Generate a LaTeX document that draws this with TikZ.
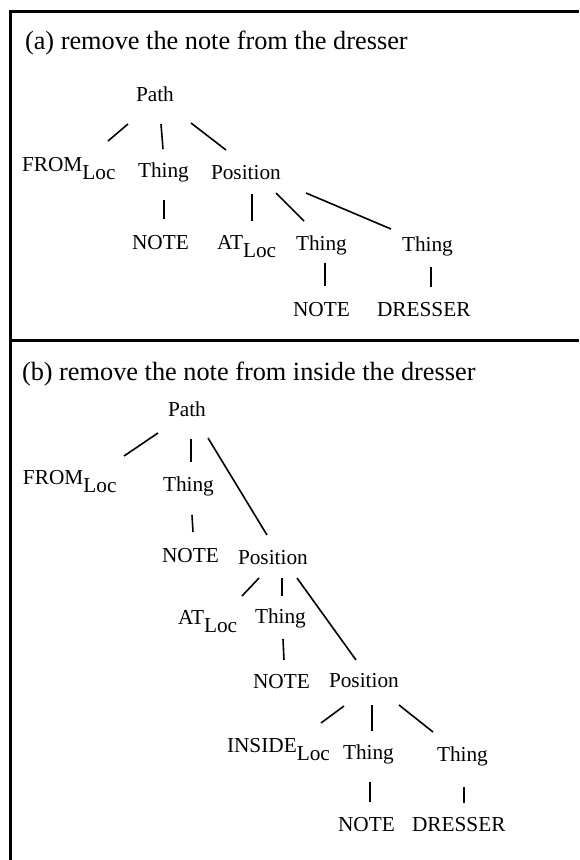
\documentclass[tikz,border=0pt]{standalone}
\usepackage{fontspec}
\setmainfont{Liberation Serif}
\begin{document}
\begin{tikzpicture}[x=1pt,y=-1pt,
  lbl/.style={anchor=base west,inner sep=0pt,outer sep=0pt,font=\fontsize{21.3}{24}\selectfont},
  ttl/.style={anchor=base west,inner sep=0pt,outer sep=0pt,font=\fontsize{26.3}{30}\selectfont},
  edge/.style={line width=1.6pt},
  frame/.style={line width=2.8pt}]
\useasboundingbox (0,0) rectangle (579,860);
\newcommand{\lsub}[1]{#1\raisebox{-8.5pt}{Loc}}
% frame
\coordinate (fa) at (10.5,860);
\coordinate (fb) at (10.5,11.5);
\coordinate (fc) at (579,11.5);
\coordinate (md) at (10.5,340.5);
\coordinate (me) at (579,340.5);
\draw[frame] (fa) -- (fb) -- (fc);
\draw[frame] (md) -- (me);
% ---- (a)
\node[ttl] (ta) at (25,49) {(a) remove the note from the dresser};
\node[lbl] (aP) at (136,101) {Path};
\node[lbl] (aF) at (22,171) {\lsub{FROM}};
\node[lbl] (aT1) at (138,177) {Thing};
\node[lbl] (aPos) at (211,179) {Position};
\node[lbl] (aN1) at (132,249) {NOTE};
\node[lbl] (aAT) at (217,249) {\lsub{AT}};
\node[lbl] (aT2) at (296,250) {Thing};
\node[lbl] (aT3) at (402,251) {Thing};
\node[lbl] (aN2) at (293,316) {NOTE};
\node[lbl] (aD) at (377,316) {DRESSER};
\draw[edge] ([shift={(-8,23)}]aP.base west) -- ([shift={(86,-30)}]aF.base west);
\draw[edge] ([shift={(25,23)}]aP.base west) -- ([shift={(25,-28)}]aT1.base west);
\draw[edge] ([shift={(55,22)}]aP.base west) -- ([shift={(15,-29)}]aPos.base west);
\draw[edge] ([shift={(26,23)}]aT1.base west) -- ([shift={(32,-30)}]aN1.base west);
\draw[edge] ([shift={(41,15)}]aPos.base west) -- ([shift={(35,-28)}]aAT.base west);
\draw[edge] ([shift={(65,14)}]aPos.base west) -- ([shift={(8,-29)}]aT2.base west);
\draw[edge] ([shift={(95,14)}]aPos.base west) -- ([shift={(-11,-22)}]aT3.base west);
\draw[edge] ([shift={(29,13)}]aT2.base west) -- ([shift={(32,-30)}]aN2.base west);
\draw[edge] ([shift={(29,16)}]aT3.base west) -- ([shift={(54,-29)}]aD.base west);
% ---- (b)
\node[ttl] (tb) at (22,380) {(b) remove the note from inside the dresser};
\node[lbl] (bP) at (168,416) {Path};
\node[lbl] (bF) at (23,484) {\lsub{FROM}};
\node[lbl] (bT1) at (163,491) {Thing};
\node[lbl] (bN1) at (162,562) {NOTE};
\node[lbl] (bPos1) at (238,564) {Position};
\node[lbl] (bAT) at (178,624) {\lsub{AT}};
\node[lbl] (bT2) at (255,623) {Thing};
\node[lbl] (bN2) at (253,688) {NOTE};
\node[lbl] (bPos2) at (329,687) {Position};
\node[lbl] (bI) at (227,752) {\lsub{INSIDE}};
\node[lbl] (bT3) at (343,759) {Thing};
\node[lbl] (bT4) at (437,761) {Thing};
\node[lbl] (bN3) at (338,831) {NOTE};
\node[lbl] (bD) at (412,831) {DRESSER};
\draw[edge] ([shift={(-10,17)}]bP.base west) -- ([shift={(101,-28)}]bF.base west);
\draw[edge] ([shift={(23,23)}]bP.base west) -- ([shift={(28,-29)}]bT1.base west);
\draw[edge] ([shift={(40,22)}]bP.base west) -- ([shift={(29,-29)}]bPos1.base west);
\draw[edge] ([shift={(29,24)}]bT1.base west) -- ([shift={(31,-30)}]bN1.base west);
\draw[edge] ([shift={(21,14)}]bPos1.base west) -- ([shift={(64,-28)}]bAT.base west);
\draw[edge] ([shift={(44,14)}]bPos1.base west) -- ([shift={(27,-27)}]bT2.base west);
\draw[edge] ([shift={(59,14)}]bPos1.base west) -- ([shift={(27,-27)}]bPos2.base west);
\draw[edge] ([shift={(28,16)}]bT2.base west) -- ([shift={(31,-28)}]bN2.base west);
\draw[edge] ([shift={(15,19)}]bPos2.base west) -- ([shift={(94,-29)}]bI.base west);
\draw[edge] ([shift={(43,18)}]bPos2.base west) -- ([shift={(29,-28)}]bT3.base west);
\draw[edge] ([shift={(70,18)}]bPos2.base west) -- ([shift={(-4,-29)}]bT4.base west);
\draw[edge] ([shift={(27,23)}]bT3.base west) -- ([shift={(32,-29)}]bN3.base west);
\draw[edge] ([shift={(27,26)}]bT4.base west) -- ([shift={(52,-28)}]bD.base west);
\end{tikzpicture}
\end{document}
